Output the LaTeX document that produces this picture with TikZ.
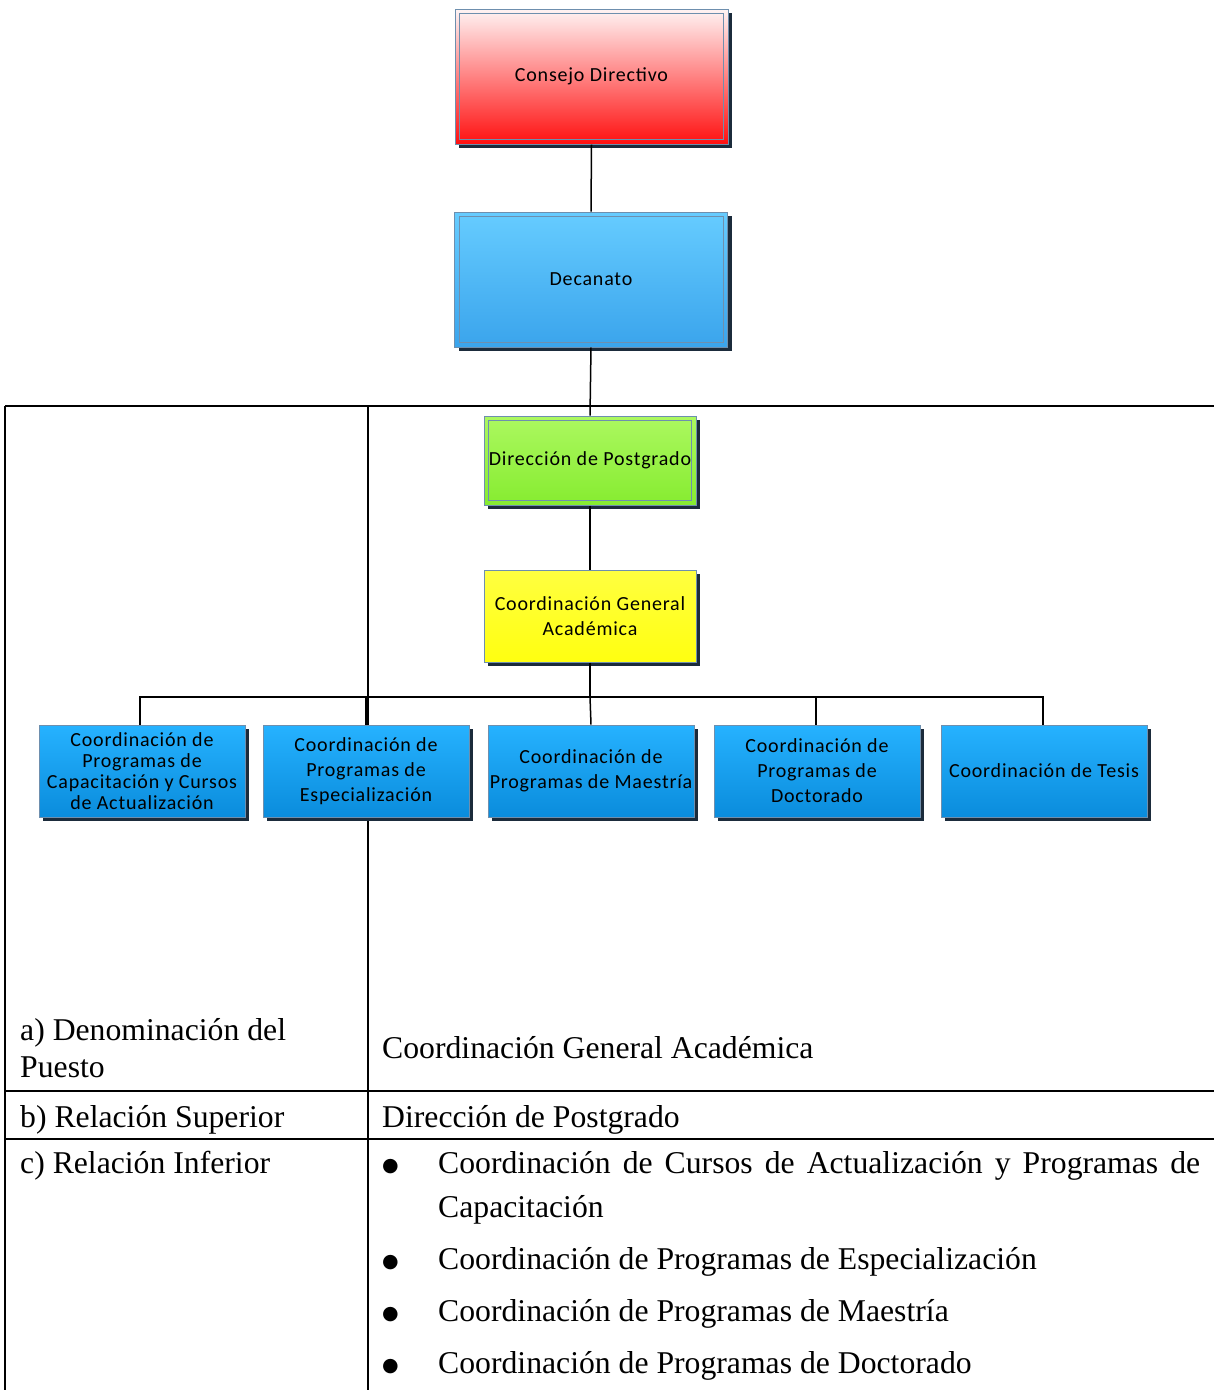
\documentclass[tikz,border=0pt]{standalone}
\usepackage{fontspec}
\setmainfont{Liberation Serif}
\newfontfamily\boxfont[LetterSpace=4]{Carlito}
\newfontfamily\symfont{DejaVu Sans}
\usetikzlibrary{shadows}
\definecolor{bord}{HTML}{6E8FAE}
\definecolor{shadowc}{HTML}{1B2B3B}
\definecolor{redbot}{HTML}{FF1010}
\definecolor{redtop}{HTML}{FFF4F4}
\definecolor{dectop}{HTML}{66CCFF}
\definecolor{decbot}{HTML}{3AA4EC}
\definecolor{grtop}{HTML}{ACF860}
\definecolor{grbot}{HTML}{86EC30}
\definecolor{yetop}{HTML}{FFFF40}
\definecolor{yebot}{HTML}{FFFF10}
\definecolor{chtop}{HTML}{26B2FF}
\definecolor{chbot}{HTML}{0A8CDC}
\begin{document}
\begin{tikzpicture}[x=1pt,y=-1pt,
  orgbox/.style={draw=bord, line width=1pt, inner sep=0pt, align=center,
    font=\boxfont\fontsize{20}{25}\selectfont,
    drop shadow={shadow xshift=4pt,shadow yshift=-4pt,fill=shadowc,opacity=1}},
  bigbox/.style={orgbox, minimum width=273pt, minimum height=135pt},
  midbox/.style={orgbox, minimum width=212pt, minimum height=90pt},
  childbox/.style={orgbox, minimum width=206pt, minimum height=92pt,
    top color=chtop, bottom color=chbot},
  innerb/.style={draw=bord, line width=1pt},
  conn/.style={draw=black, line width=1.5pt},
  tline/.style={draw=black, line width=1.5pt},
  ttext/.style={anchor=base west, inner sep=0pt, font=\fontsize{31.7}{37}\selectfont},
  bullet/.style={anchor=base west, inner sep=0pt, font=\symfont\fontsize{19}{22}\selectfont}
]
\useasboundingbox (0,0) rectangle (1214,1390);

% table lines
\draw[tline] (5,406) -- (1214,406);
\draw[tline] (5,406) -- (5,1390);
\draw[tline] (368,406) -- (368,1390);
\draw[tline] (5,1091) -- (1214,1091);
\draw[tline] (5,1139) -- (1214,1139);

% org chart boxes
\node[bigbox, top color=redtop, bottom color=redbot] (cd) at (591.5,76.5) {Consejo Directivo};
\draw[innerb] ([shift={(5,5)}]cd.north west) rectangle ([shift={(-5,-5)}]cd.south east);

\node[bigbox, top color=dectop, bottom color=decbot] (dec) at (591,279.5) {Decanato};
\draw[innerb] ([shift={(5,5)}]dec.north west) rectangle ([shift={(-5,-5)}]dec.south east);

\node[midbox, minimum height=89pt, top color=grtop, bottom color=grbot] (dp) at (590,460.5) {Dirección de Postgrado};
\draw[innerb] ([shift={(5,5)}]dp.north west) rectangle ([shift={(-5,-5)}]dp.south east);

\node[midbox, minimum height=92pt, top color=yetop, bottom color=yebot] (cga) at (590,616) {Coordinación General\\Académica};

\node[childbox, font=\boxfont\fontsize{20}{21}\selectfont] (c1) at (142,771) {Coordinación de\\Programas de\\Capacitación y Cursos\\de Actualización};
\node[childbox] (c2) at (366,771) {Coordinación de\\Programas de\\Especialización};
\node[childbox] (c3) at (591,771) {Coordinación de\\Programas de Maestría};
\node[childbox] (c4) at (817,771) {Coordinación de\\Programas de\\Doctorado};
\node[childbox] (c5) at (1044,771) {Coordinación de Tesis};

% connectors
\coordinate (bus) at (590,697);
\draw[conn] (cd.south) -- (dec.north);
\draw[conn] (dec.south) -- (dp.north);
\draw[conn] (dp.south) -- (cga.north);
\draw[conn] (cga.south) -- (bus);
\draw[conn] (bus) -| ([xshift=-2pt]c1.north);
\draw[conn] (bus) -| (c2.north);
\draw[conn] (bus) -- (c3.north);
\draw[conn] (bus) -| ([xshift=-1pt]c4.north);
\draw[conn] (bus) -| ([xshift=-1pt]c5.north);

% table texts
\node[ttext] (la1) at (20,1040) {a) Denominación del};
\node[ttext] (la2) at (20,1077) {Puesto};
\node[ttext] (ra) at (382,1058) {Coordinación General Académica};
\node[ttext] (lb) at (20,1127) {b) Relación Superior};
\node[ttext] (rb) at (382,1127) {Dirección de Postgrado};
\node[ttext] (lc) at (20,1173) {c) Relación Inferior};

\node[bullet] (b1) at (382,1171) {●};
\node[ttext] (i1a) at (438,1173) {\makebox[762pt][s]{Coordinación de Cursos de Actualización y Programas de}};
\node[ttext] (i1b) at (438,1217) {Capacitación};
\node[bullet] (b2) at (382,1267) {●};
\node[ttext] (i2) at (438,1269) {Coordinación de Programas de Especialización};
\node[bullet] (b3) at (382,1319) {●};
\node[ttext] (i3) at (438,1321) {Coordinación de Programas de Maestría};
\node[bullet] (b4) at (382,1371) {●};
\node[ttext] (i4) at (438,1373) {Coordinación de Programas de Doctorado};
\end{tikzpicture}
\end{document}
